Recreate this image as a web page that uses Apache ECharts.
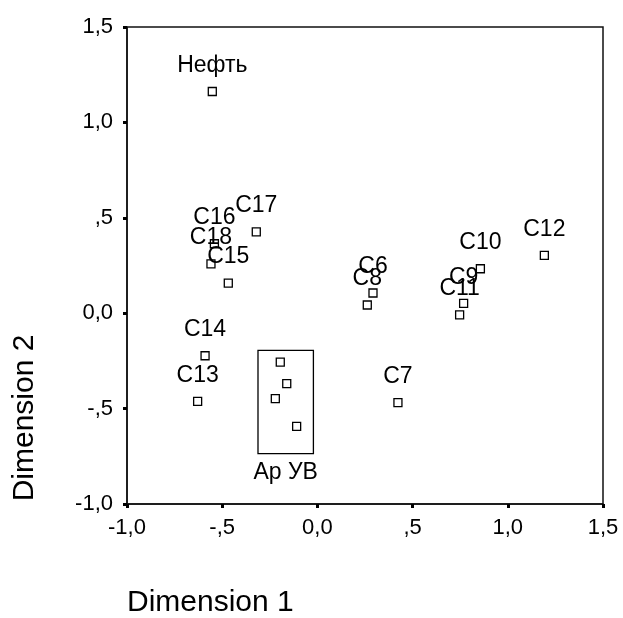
<!DOCTYPE html>
<html>
<head>
<meta charset="utf-8">
<script src="https://cdn.jsdelivr.net/npm/echarts@6/dist/echarts.min.js"></script>
<style>
  html, body { margin: 0; padding: 0; background: #fff; }
  #chart { width: 623px; height: 618px; }
</style>
</head>
<body>
<div id="chart"></div>
<script>
// labelled stimuli (Dimension 1, Dimension 2)
const pointNames = ['Нефть', 'C17', 'C16', 'C18', 'C15', 'C14', 'C13', 'C12', 'C10', 'C9', 'C11', 'C6', 'C8', 'C7'];
const dim1 = [-0.552, -0.321, -0.541, -0.559, -0.468, -0.590, -0.629, 1.192, 0.856, 0.768, 0.747, 0.292, 0.262, 0.423];
const dim2 = [1.162, 0.426, 0.364, 0.259, 0.158, -0.223, -0.462, 0.303, 0.233, 0.051, -0.009, 0.106, 0.043, -0.469];

// unlabelled points inside the "Ар УВ" box
const groupDim1 = [-0.195, -0.161, -0.221, -0.109];
const groupDim2 = [-0.256, -0.369, -0.448, -0.593];
const groupName = 'Ар УВ';
const groupBoxX = [-0.312, -0.021];
const groupBoxY = [-0.195, -0.736];

const xTickLabels = ['-1,0', '-,5', '0,0', ',5', '1,0', '1,5'];
const yTickLabels = ['-1,0', '-,5', '0,0', ',5', '1,0', '1,5'];

const font = 'Liberation Sans, Arial, sans-serif';
const tickFmt = (labels) => (v) => labels[Math.round((v + 1) / 0.5)] || '';

const chart = echarts.init(document.getElementById('chart'));

const axisCommon = {
    type: 'value',
    min: -1,
    max: 1.5,
    interval: 0.5,
    splitLine: { show: false },
    axisLine: { show: true, onZero: false, lineStyle: { color: '#111', width: 1.5 } },
    axisTick: { show: true, length: 4, lineStyle: { color: '#000', width: 3 } }
};

let option = {
    animation: false,
    grid: {
        left: 127, right: 20, top: 27, bottom: 114,
        show: true, borderColor: '#111', borderWidth: 1.5
    },
    xAxis: Object.assign({}, axisCommon, {
        axisLabel: { formatter: tickFmt(xTickLabels), color: '#000', fontFamily: font, fontSize: 22, margin: 13 }
    }),
    yAxis: Object.assign({}, axisCommon, {
        axisLabel: { formatter: tickFmt(yTickLabels), color: '#000', fontFamily: font, fontSize: 22, margin: 14 }
    }),
    graphic: [
        {
            type: 'text', left: 127, top: 588,
            style: { text: 'Dimension 1', font: '30px ' + font, fill: '#000' }
        },
        {
            type: 'text', x: 25, y: 418, rotation: Math.PI / 2,
            style: { text: 'Dimension 2', font: '30px ' + font, fill: '#000', align: 'center', verticalAlign: 'middle' }
        }
    ],
    series: [
        {
            name: 'stimuli',
            type: 'scatter',
            symbol: 'rect',
            symbolSize: 8,
            itemStyle: { color: '#fff', borderColor: '#000', borderWidth: 1.3, opacity: 1 },
            label: {
                show: true, position: 'top', distance: 10,
                formatter: '{b}', color: '#000', fontFamily: font, fontSize: 23
            },
            emphasis: { disabled: true },
            data: pointNames.map((n, i) => ({ name: n, value: [dim1[i], dim2[i]] }))
        },
        {
            name: groupName,
            type: 'scatter',
            symbol: 'rect',
            symbolSize: 8,
            itemStyle: { color: '#fff', borderColor: '#000', borderWidth: 1.3, opacity: 1 },
            emphasis: { disabled: true },
            data: groupDim1.map((x, i) => [x, groupDim2[i]]),
            markArea: {
                silent: true,
                itemStyle: { color: 'rgba(0,0,0,0)', borderColor: '#000', borderWidth: 1.3 },
                label: {
                    show: true, position: 'bottom', distance: 7,
                    color: '#000', fontFamily: font, fontSize: 23
                },
                data: [[
                    { name: groupName, coord: [groupBoxX[0], groupBoxY[0]] },
                    { coord: [groupBoxX[1], groupBoxY[1]] }
                ]]
            }
        }
    ]
};

chart.setOption(option);
</script>
</body>
</html>
